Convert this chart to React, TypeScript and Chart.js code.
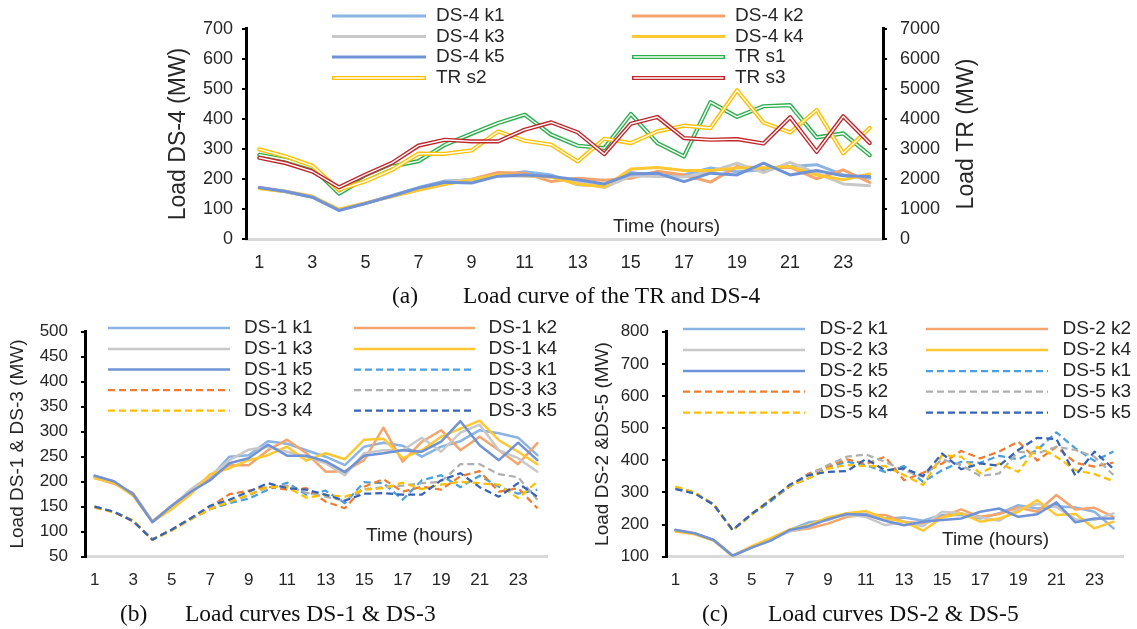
import React, { useEffect, useRef } from "react";
import { Chart, registerables } from "chart.js";
Chart.register(...registerables);

// ---------- categories & ticks ----------
const hours = [1, 2, 3, 4, 5, 6, 7, 8, 9, 10, 11, 12, 13, 14, 15, 16, 17, 18, 19, 20, 21, 22, 23, 24];
const xTickLabels = [1, 3, 5, 7, 9, 11, 13, 15, 17, 19, 21, 23];
const ds4Ticks = [0, 100, 200, 300, 400, 500, 600, 700];
const trTicks = [0, 1000, 2000, 3000, 4000, 5000, 6000, 7000];
const ds13Ticks = [50, 100, 150, 200, 250, 300, 350, 400, 450, 500];
const ds25Ticks = [100, 200, 300, 400, 500, 600, 700, 800];

// ---------- (a) DS-4 and TR ----------
const ds4k1 = [170, 158, 140, 97, 119, 146, 172, 194, 197, 212, 225, 214, 181, 178, 222, 211, 214, 237, 225, 231, 242, 248, 214, 203];
const ds4k2 = [172, 160, 143, 99, 120, 143, 165, 190, 200, 222, 220, 192, 203, 196, 203, 226, 214, 190, 242, 237, 240, 201, 231, 189];
const ds4k3 = [171, 159, 142, 98, 121, 145, 168, 190, 200, 212, 210, 207, 190, 172, 211, 209, 207, 225, 253, 222, 256, 220, 184, 178];
const ds4k4 = [168, 158, 142, 100, 121, 142, 163, 182, 198, 214, 212, 207, 183, 175, 234, 239, 229, 229, 237, 237, 242, 214, 198, 217];
const ds4k5 = [172, 159, 140, 96, 119, 144, 171, 190, 187, 210, 214, 209, 198, 184, 217, 220, 192, 220, 214, 253, 214, 229, 211, 209];
const trS1 = [2811, 2644, 2389, 1520, 2030, 2420, 2600, 3144, 3511, 3867, 4144, 3478, 3111, 3033, 4167, 3200, 2755, 4560, 4070, 4425, 4460, 3390, 3520, 2800];
const trS2 = [2990, 2755, 2444, 1644, 1930, 2310, 2850, 2844, 2955, 3589, 3278, 3144, 2589, 3344, 3200, 3589, 3778, 3700, 4955, 3880, 3550, 4300, 2860, 3700];
const trS3 = [2710, 2533, 2255, 1730, 2150, 2540, 3115, 3311, 3255, 3255, 3644, 3889, 3555, 2833, 3844, 4067, 3367, 3311, 3330, 3186, 4060, 2910, 4090, 3200];

// ---------- (b) DS-1 and DS-3 ----------
const ds1k1 = [212, 200, 175, 121, 150, 180, 208, 250, 253, 281, 276, 263, 250, 233, 270, 278, 272, 250, 270, 281, 303, 297, 288, 253];
const ds1k2 = [208, 196, 177, 121, 152, 182, 210, 233, 233, 263, 284, 257, 220, 221, 243, 308, 240, 280, 303, 263, 290, 263, 235, 277];
const ds1k3 = [210, 199, 174, 120, 150, 185, 212, 243, 264, 270, 260, 250, 237, 213, 257, 263, 263, 288, 260, 298, 314, 263, 247, 220];
const ds1k4 = [207, 198, 172, 120, 145, 175, 215, 227, 243, 253, 270, 242, 257, 245, 284, 286, 247, 263, 290, 306, 322, 283, 260, 235];
const ds1k5 = [212, 201, 175, 119, 152, 180, 203, 237, 247, 274, 252, 252, 241, 219, 252, 257, 263, 260, 280, 321, 273, 243, 278, 243];
const ds3k1 = [150, 140, 122, 85, 103, 125, 145, 157, 166, 184, 198, 174, 182, 157, 199, 197, 164, 203, 213, 189, 212, 190, 176, 184];
const ds3k2 = [150, 139, 121, 84, 104, 127, 150, 175, 182, 190, 184, 187, 160, 147, 190, 205, 180, 190, 184, 211, 221, 180, 187, 147];
const ds3k3 = [149, 140, 122, 85, 104, 126, 148, 160, 172, 190, 192, 178, 170, 162, 185, 189, 192, 197, 200, 235, 235, 215, 209, 164];
const ds3k4 = [148, 139, 123, 84, 102, 125, 145, 160, 174, 190, 189, 168, 174, 170, 184, 187, 198, 185, 194, 200, 197, 194, 167, 200];
const ds3k5 = [150, 140, 121, 84, 104, 127, 152, 164, 180, 197, 187, 184, 174, 162, 176, 177, 174, 174, 203, 217, 189, 170, 197, 170];

// ---------- (c) DS-2 and DS-5 ----------
const ds2k1 = [183, 172, 152, 103, 129, 152, 183, 207, 214, 235, 233, 219, 222, 212, 230, 230, 219, 235, 260, 250, 257, 253, 240, 188];
const ds2k2 = [183, 172, 152, 103, 130, 155, 180, 188, 203, 224, 230, 230, 209, 203, 224, 247, 224, 233, 253, 240, 292, 247, 252, 224];
const ds2k3 = [181, 171, 151, 104, 131, 153, 178, 193, 219, 230, 224, 198, 209, 195, 240, 235, 222, 212, 247, 264, 255, 216, 214, 235];
const ds2k4 = [178, 170, 150, 101, 133, 158, 185, 198, 222, 235, 242, 219, 209, 181, 222, 235, 209, 219, 240, 276, 230, 233, 188, 209];
const ds2k5 = [183, 173, 152, 103, 128, 150, 183, 195, 216, 233, 230, 212, 198, 209, 214, 219, 240, 250, 224, 232, 269, 207, 219, 219];
const ds5k1 = [312, 298, 262, 182, 232, 272, 320, 344, 378, 395, 385, 364, 382, 333, 369, 395, 392, 414, 403, 432, 487, 437, 398, 427];
const ds5k2 = [314, 300, 263, 183, 233, 278, 318, 359, 380, 403, 388, 411, 338, 361, 390, 429, 406, 427, 458, 399, 442, 392, 380, 393];
const ds5k3 = [313, 299, 264, 182, 234, 275, 322, 354, 385, 411, 418, 395, 369, 349, 403, 385, 351, 359, 427, 421, 442, 432, 411, 354];
const ds5k4 = [318, 300, 262, 182, 230, 280, 320, 344, 374, 385, 382, 382, 354, 323, 416, 411, 359, 390, 364, 442, 411, 369, 357, 335];
const ds5k5 = [310, 297, 262, 183, 233, 276, 324, 354, 364, 366, 404, 369, 375, 351, 421, 372, 390, 383, 432, 470, 466, 352, 427, 373];

// ---------- styles ----------
const C = {
  k1: "#89B4E4", k2: "#F4A46C", k3: "#C8C8C8", k4: "#FFC832", k5: "#6F93D6",
  d1: "#4A9FE0", d2: "#EE7D31", d3: "#AFAFAF", d4: "#FFBF00", d5: "#3563B8",
  s1: "#2DAF4E", s2: "#FFC000", s3: "#C0272D",
};
const SANS = '"Liberation Sans", Arial, sans-serif';
const SERIF = '"Liberation Serif", "Times New Roman", serif';
const TXT = "#262626";

type Series = { label: string; data: number[]; color: string; width: number; dash?: boolean; double?: boolean; axis?: string };
type Spec = {
  box: { left: number; top: number; width: number; height: number };
  area: { left: number; right: number; top: number; bottom: number };
  series: Series[];
  y: { min: number; max: number; ticks: number[]; pad: number };
  y2?: { min: number; max: number; ticks: number[]; pad: number };
  tickFont: number;
  xPad: number;
  titles: { text: string; x: number; y: number; size: number }[];
  time: { x: number; y: number };
  legend: { line1: [number, number]; text1: number; line2: [number, number]; text2: number; rows: number[] };
};

const specA: Spec = {
  box: { left: 150, top: 0, width: 850, height: 285 },
  area: { left: 246, right: 883, top: 28.8, bottom: 239.3 },
  series: [
    { label: "DS-4 k1", data: ds4k1, color: C.k1, width: 3 },
    { label: "DS-4 k2", data: ds4k2, color: C.k2, width: 3 },
    { label: "DS-4 k3", data: ds4k3, color: C.k3, width: 3 },
    { label: "DS-4 k4", data: ds4k4, color: C.k4, width: 3 },
    { label: "DS-4 k5", data: ds4k5, color: C.k5, width: 3 },
    { label: "TR s1", data: trS1, color: C.s1, width: 4.2, double: true, axis: "y2" },
    { label: "TR s2", data: trS2, color: C.s2, width: 4.2, double: true, axis: "y2" },
    { label: "TR s3", data: trS3, color: C.s3, width: 4.2, double: true, axis: "y2" },
  ],
  y: { min: 0, max: 700, ticks: ds4Ticks, pad: 9 },
  y2: { min: 0, max: 7000, ticks: trTicks, pad: 13 },
  tickFont: 18,
  xPad: 13,
  titles: [
    { text: "Load DS-4 (MW)", x: 178.5, y: 134, size: 23 },
    { text: "Load TR (MW)", x: 966.5, y: 134, size: 23 },
  ],
  time: { x: 613, y: 227 },
  legend: { line1: [332, 426], text1: 436, line2: [632, 725], text2: 735, rows: [16, 36.5, 57, 78] },
};

const specB: Spec = {
  box: { left: 0, top: 300, width: 565, height: 300 },
  area: { left: 85, right: 547, top: 331.7, bottom: 556.7 },
  series: [
    { label: "DS-1 k1", data: ds1k1, color: C.k1, width: 2.5 },
    { label: "DS-1 k2", data: ds1k2, color: C.k2, width: 2.5 },
    { label: "DS-1 k3", data: ds1k3, color: C.k3, width: 2.5 },
    { label: "DS-1 k4", data: ds1k4, color: C.k4, width: 2.5 },
    { label: "DS-1 k5", data: ds1k5, color: C.k5, width: 2.5 },
    { label: "DS-3 k1", data: ds3k1, color: C.d1, width: 2.25, dash: true },
    { label: "DS-3 k2", data: ds3k2, color: C.d2, width: 2.25, dash: true },
    { label: "DS-3 k3", data: ds3k3, color: C.d3, width: 2.25, dash: true },
    { label: "DS-3 k4", data: ds3k4, color: C.d4, width: 2.25, dash: true },
    { label: "DS-3 k5", data: ds3k5, color: C.d5, width: 2.25, dash: true },
  ],
  y: { min: 50, max: 500, ticks: ds13Ticks, pad: 13 },
  tickFont: 17,
  xPad: 13,
  titles: [{ text: "Load DS-1 & DS-3 (MW)", x: 17.5, y: 444, size: 19 }],
  time: { x: 366, y: 536 },
  legend: { line1: [108, 230], text1: 244, line2: [354, 475], text2: 488.5, rows: [328, 349, 369.5, 390, 410.5] },
};

const specC: Spec = {
  box: { left: 575, top: 300, width: 562, height: 300 },
  area: { left: 666, right: 1123, top: 331.7, bottom: 556.7 },
  series: [
    { label: "DS-2 k1", data: ds2k1, color: C.k1, width: 2.5 },
    { label: "DS-2 k2", data: ds2k2, color: C.k2, width: 2.5 },
    { label: "DS-2 k3", data: ds2k3, color: C.k3, width: 2.5 },
    { label: "DS-2 k4", data: ds2k4, color: C.k4, width: 2.5 },
    { label: "DS-2 k5", data: ds2k5, color: C.k5, width: 2.5 },
    { label: "DS-5 k1", data: ds5k1, color: C.d1, width: 2.25, dash: true },
    { label: "DS-5 k2", data: ds5k2, color: C.d2, width: 2.25, dash: true },
    { label: "DS-5 k3", data: ds5k3, color: C.d3, width: 2.25, dash: true },
    { label: "DS-5 k4", data: ds5k4, color: C.d4, width: 2.25, dash: true },
    { label: "DS-5 k5", data: ds5k5, color: C.d5, width: 2.25, dash: true },
  ],
  y: { min: 100, max: 800, ticks: ds25Ticks, pad: 13 },
  tickFont: 17,
  xPad: 13,
  titles: [{ text: "Load DS-2 &DS-5 (MW)", x: 603, y: 444, size: 19 }],
  time: { x: 942, y: 540 },
  legend: { line1: [683, 805], text1: 819.5, line2: [926, 1048], text2: 1062.5, rows: [329, 350, 371, 391.7, 412.7] },
};

const DASH = [7, 4];

function Panel({ spec }: { spec: Spec }) {
  const ref = useRef<HTMLCanvasElement>(null);
  useEffect(() => {
    const canvas = ref.current!;
    const { box, area } = spec;
    const ox = (x: number) => x - box.left;
    const oy = (y: number) => y - box.top;

    const datasets: any[] = [];
    spec.series.forEach((s) => {
      const pts = hours.map((h, i) => ({ x: h, y: s.data[i] }));
      const base = {
        data: pts, pointRadius: 0, pointHoverRadius: 0, tension: 0, fill: false,
        yAxisID: s.axis || "y", borderJoinStyle: "round", borderCapStyle: s.dash ? "butt" : "round",
      };
      datasets.push({ ...base, label: s.label, borderColor: s.color, borderWidth: s.width, borderDash: s.dash ? DASH : [] });
      if (s.double) datasets.push({ ...base, label: s.label + " (inner)", borderColor: "#FFFFFF", borderWidth: 1.4 });
    });
    datasets.forEach((d, i) => (d.order = datasets.length - i));

    const tickFont = { family: SANS, size: spec.tickFont };
    const yScale = (o: { min: number; max: number; ticks: number[]; pad: number }, pos: string, w: number) => ({
      type: "linear", position: pos, min: o.min, max: o.max, bounds: "data",
      afterBuildTicks: (sc: any) => { sc.ticks = o.ticks.map((v) => ({ value: v })); },
      afterFit: (sc: any) => { sc.width = w; },
      grid: { display: true, drawOnChartArea: false, drawTicks: true, tickLength: 4, color: "#000", lineWidth: 2 },
      border: { display: true, color: "#000", width: 3 },
      ticks: { font: tickFont, color: TXT, padding: o.pad, autoSkip: false, callback: (v: any) => String(v) },
    });

    const scales: any = {
      x: {
        type: "linear", min: 0.5, max: 24.5, bounds: "data",
        afterBuildTicks: (sc: any) => { sc.ticks = xTickLabels.map((v) => ({ value: v })); },
        afterFit: (sc: any) => { sc.height = box.height - oy(area.bottom); },
        grid: { display: false, drawTicks: false },
        border: { display: true, color: "#D9D9D9", width: 3 },
        ticks: { font: tickFont, color: TXT, padding: spec.xPad, maxRotation: 0, autoSkip: false, callback: (v: any) => String(v) },
      },
      y: yScale(spec.y, "left", ox(area.left)),
    };
    if (spec.y2) scales.y2 = yScale(spec.y2, "right", box.width - ox(area.right));

    const overlay = {
      id: "overlay",
      afterDraw(chart: any) {
        const ctx = chart.ctx as CanvasRenderingContext2D;
        ctx.save();
        ctx.fillStyle = TXT;
        spec.titles.forEach((t) => {
          ctx.save();
          ctx.translate(ox(t.x), oy(t.y));
          ctx.rotate(-Math.PI / 2);
          ctx.font = `${t.size}px ${SANS}`;
          ctx.textAlign = "center";
          ctx.textBaseline = "middle";
          ctx.fillText(t.text, 0, 0);
          ctx.restore();
        });
        ctx.font = `19px ${SANS}`;
        ctx.textAlign = "left";
        ctx.textBaseline = "middle";
        ctx.fillText("Time (hours)", ox(spec.time.x), oy(spec.time.y));
        const lg = spec.legend;
        spec.series.forEach((s, i) => {
          const col = i % 2;
          const y = oy(lg.rows[Math.floor(i / 2)]);
          const [x1, x2] = col === 0 ? lg.line1 : lg.line2;
          const tx = col === 0 ? lg.text1 : lg.text2;
          ctx.save();
          ctx.lineCap = "butt";
          ctx.setLineDash(s.dash ? DASH : []);
          ctx.strokeStyle = s.color;
          ctx.lineWidth = s.width;
          ctx.beginPath();
          ctx.moveTo(ox(x1), y);
          ctx.lineTo(ox(x2), y);
          ctx.stroke();
          if (s.double) {
            ctx.strokeStyle = "#FFFFFF";
            ctx.lineWidth = 1.4;
            ctx.beginPath();
            ctx.moveTo(ox(x1) + 1.5, y);
            ctx.lineTo(ox(x2) - 1.5, y);
            ctx.stroke();
          }
          ctx.restore();
          ctx.fillStyle = TXT;
          ctx.font = `19px ${SANS}`;
          ctx.fillText(s.label, ox(tx), y);
        });
        ctx.restore();
      },
    };

    const chart = new Chart(canvas, {
      type: "line",
      data: { datasets },
      options: {
        responsive: false,
        animation: false,
        devicePixelRatio: 1,
        events: [],
        layout: {
          padding: { top: oy(area.top), left: 0, bottom: 0, right: spec.y2 ? 0 : box.width - ox(area.right) },
        },
        plugins: { legend: { display: false }, tooltip: { enabled: false }, title: { display: false } },
        scales,
      } as any,
      plugins: [overlay as any],
    });
    return () => chart.destroy();
  }, [spec]);

  return (
    <canvas
      ref={ref}
      width={spec.box.width}
      height={spec.box.height}
      style={{ position: "absolute", left: spec.box.left, top: spec.box.top, width: spec.box.width, height: spec.box.height }}
    />
  );
}

function Caption({ tag, text, x, textX, y }: { tag: string; text: string; x: number; textX: number; y: number }) {
  const st: React.CSSProperties = {
    position: "absolute", top: y - 14, fontFamily: SERIF, fontSize: 23.5, lineHeight: "28px", color: "#111", whiteSpace: "nowrap",
  };
  return (
    <>
      <div style={{ ...st, left: x }}>{tag}</div>
      <div style={{ ...st, left: textX }}>{text}</div>
    </>
  );
}

export default function App() {
  return (
    <div style={{ position: "absolute", left: 0, top: 0, width: 1137, height: 629, background: "#fff", overflow: "hidden" }}>
      <Panel spec={specA} />
      <Panel spec={specB} />
      <Panel spec={specC} />
      <Caption tag="(a)" text="Load curve of the TR and DS-4" x={392} textX={463} y={295} />
      <Caption tag="(b)" text="Load curves DS-1 & DS-3" x={120} textX={185} y={613} />
      <Caption tag="(c)" text="Load curves DS-2 & DS-5" x={702} textX={768} y={613} />
    </div>
  );
}
